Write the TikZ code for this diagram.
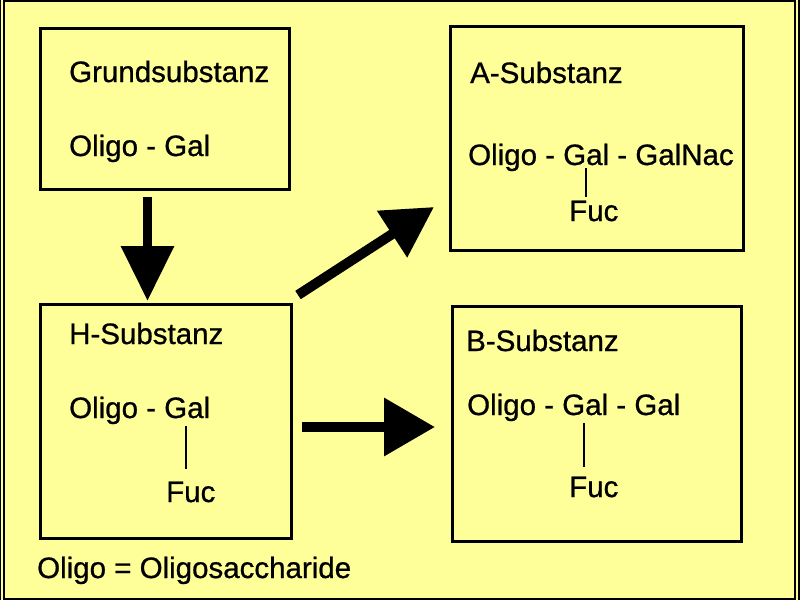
\documentclass[tikz,border=0pt]{standalone}
\usepackage{fontspec}
\setmainfont{Liberation Sans}[BoldFont={Liberation Sans}, BoldFeatures={FakeBold=0.8}]
\usetikzlibrary{arrows.meta}
\definecolor{bg}{HTML}{FFFF99}
\tikzset{
  box/.style={draw=black, line width=3pt, inner sep=0pt, fill=none},
  txt/.style={anchor=base west, inner sep=0pt, font=\fontsize{29.5}{34}\selectfont\bfseries},
  bond/.style={line width=2pt},
}
\begin{document}
\begin{tikzpicture}[x=1pt,y=-1pt]
\useasboundingbox (0,0) rectangle (800,600);
\fill[bg] (0,0) rectangle (800,600);
% frame
\draw[line width=2pt] (3.5,1) -- (794.5,1) -- (794.5,598.5) -- (3.5,598.5) -- cycle;
\draw[line width=1pt] (0.5,0) -- (0.5,600);
\draw[line width=1.5pt] (799.2,0) -- (799.2,600);
% boxes
\node[box, minimum width=249pt, minimum height=161pt] (g) at (165,109) {};
\node[box, minimum width=293pt, minimum height=224pt] (a) at (597,138.5) {};
\node[box, minimum width=251pt, minimum height=234pt] (h) at (166,421.5) {};
\node[box, minimum width=289pt, minimum height=235pt] (b) at (597,424) {};
% texts
\node[txt] (gt) at (69,82) {Grundsubstanz};
\node[txt] (gf) at (69,156) {Oligo - Gal};
\node[txt] (at) at (470,83) {A-Substanz};
\node[txt] (af) at (468,165) {Oligo - Gal - GalNac};
\node[txt] (afuc) at (569,221) {Fuc};
\node[txt] (ht) at (69,344) {H-Substanz};
\node[txt] (hf) at (69,418) {Oligo - Gal};
\node[txt] (hfuc) at (166,502) {Fuc};
\node[txt] (bt) at (466,351) {B-Substanz};
\node[txt] (bf) at (467,415) {Oligo - Gal - Gal};
\node[txt] (bfuc) at (569,497) {Fuc};
\node[txt] (note) at (37,578) {Oligo = Oligosaccharide};
% bonds
\coordinate (a1) at (586,168); \coordinate (a2) at (586,197);
\coordinate (h1) at (186,426); \coordinate (h2) at (186,469);
\coordinate (b1) at (584,423); \coordinate (b2) at (584,467);
\draw[bond] (a1) -- (a2);
\draw[bond] (h1) -- (h2);
\draw[bond] (b1) -- (b2);
% arrows
\coordinate (d1) at (147.5,197); \coordinate (d2) at (147.5,301);
\coordinate (r1) at (302,427); \coordinate (r2) at (435,427);
\coordinate (s1) at (298,295); \coordinate (s2) at (434,207);
\draw[line width=9.5pt, -{Triangle[length=55pt 0 0,width=51pt 0 0]}] (d1) -- (d2);
\draw[line width=10pt, -{Triangle[length=51pt 0 0,width=56pt 0 0]}] (r1) -- (r2);
\draw[line width=10pt, -{Triangle[length=50pt 0 0,width=53pt 0 0]}] (s1) -- (s2);
\end{tikzpicture}
\end{document}
